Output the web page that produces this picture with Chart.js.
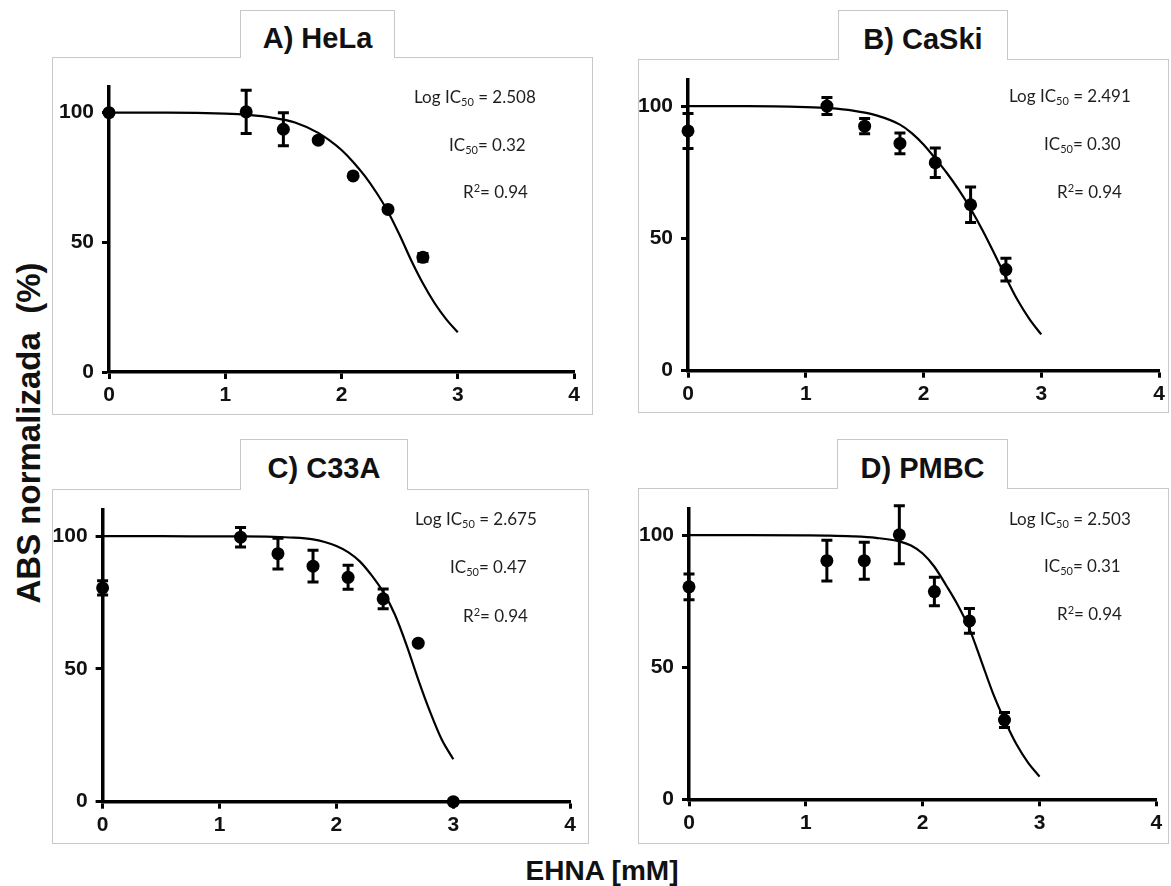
<!DOCTYPE html>
<html>
<head>
<meta charset="utf-8">
<script src="https://cdn.jsdelivr.net/npm/chart.js@4.4.0/dist/chart.umd.min.js"></script>
<style>
    body { margin: 0; width: 1171px; height: 886px; background: #fff; position: relative; overflow: hidden;
           font-family: 'Liberation Sans', Arial, sans-serif; }
    .box { position: absolute; border: 1px solid #c8c8c8; box-sizing: border-box; }
    .tab { position: absolute; border: 1px solid #c8c8c8; border-bottom: none; background: #fff; box-sizing: border-box;
           font-weight: bold; font-size: 29px; color: #111; text-align: center; z-index: 2; }
    .tab span { position: absolute; left: 0; right: 0; }
    canvas { position: absolute; z-index: 1; }
    .note { position: absolute; font-family: Lato, 'Open Sans', sans-serif; font-size: 17px; line-height: 20px;
            color: #1e1e1e; white-space: nowrap; z-index: 3; }
    .note sub { font-size: 11px; vertical-align: -3px; line-height: 0; }
    .note sup { font-size: 11px; vertical-align: 6px; line-height: 0; }
    .axis-title { position: absolute; font-weight: bold; color: #111; white-space: nowrap; z-index: 3;
                  transform: translate(-50%, -50%); }
</style>
</head>
<body>
<script>
// doses (log scale, mM) shared by all four cell lines
const dose = [0, 1.18, 1.5, 1.8, 2.1, 2.4, 2.7];
const doseC33A = [0, 1.18, 1.5, 1.8, 2.1, 2.4, 2.7, 3.0];

// normalized absorbance (%) and error bars
const hela = [100, 100.3, 93.6, 89.4, 75.6, 62.7, 44.2];
const helaErr = [0, 8.3, 6.4, 0, 0, 0, 1.5];
const caski = [90.6, 100, 92.4, 85.9, 78.6, 62.7, 38.2];
const caskiErr = [6.6, 3.2, 2.9, 3.9, 5.6, 6.7, 4.3];
const c33a = [80.5, 99.6, 93.4, 88.7, 84.5, 76.4, 59.7, 0];
const c33aErr = [2.7, 3.7, 5.8, 6.0, 4.5, 3.7, 0, 0];
const pmbc = [80.4, 90.3, 90.3, 100.1, 78.6, 67.5, 30];
const pmbcErr = [4.9, 7.7, 7.0, 11, 5.4, 4.7, 2.8];

// fitted dose-response curves
const curveX = [0, 0.5, 1.0, 1.2, 1.4, 1.6, 1.8, 1.9, 2.0, 2.1, 2.2, 2.3, 2.4, 2.5, 2.6, 2.7, 2.8, 2.9, 3.0];
const helaFit = [100, 100, 99.6, 99.1, 98.1, 96.2, 92.2, 89.2, 85.6, 81.0, 75.6, 69.2, 61.8, 52.8, 43.0, 34.2, 26.6, 20.4, 15.3];
const caskiFit = [100, 100, 99.6, 99.2, 98.3, 96.5, 93.0, 89.8, 85.5, 80.2, 74.6, 68.3, 61.2, 53.2, 44.4, 35.2, 26.6, 19.5, 13.7];
const c33aFit = [100, 100, 99.9, 99.9, 99.8, 99.5, 98.8, 97.8, 96.3, 94.0, 90.5, 85.3, 79.0, 70.5, 59.0, 46.0, 34.0, 23.5, 16.0];
const pmbcFit = [100, 100, 99.9, 99.8, 99.5, 98.9, 97.6, 96.0, 93.0, 88.0, 81.0, 73.5, 64.5, 52.5, 40.3, 30.0, 21.0, 14.0, 8.6];

const titles = ['A) HeLa', 'B) CaSki', 'C) C33A', 'D) PMBC'];
const logIC50 = ['2.508', '2.491', '2.675', '2.503'];
const ic50 = ['0.32', '0.30', '0.47', '0.31'];
const r2 = ['0.94', '0.94', '0.94', '0.94'];
const xTicks = [0, 1, 2, 3, 4];
const yTicks = [0, 50, 100];

// page geometry of each panel: frame, title tab, plot area, note lines (left, centre y)
const panels = [
    { box: [52, 57, 541, 358], tab: [240, 10, 155], plot: [109, 574, 86.7, 372],
      notes: [[414, 98], [449, 146], [463, 193]] },
    { box: [638, 59, 531, 354], tab: [838, 10, 170], plot: [688, 1159, 71, 370.7],
      notes: [[1009, 97], [1044, 145], [1057, 193]] },
    { box: [52, 489, 537, 355], tab: [240, 439, 168], plot: [102.6, 570.2, 495, 801.7],
      notes: [[415, 520], [450, 568], [463, 617]] },
    { box: [638, 488, 531, 356], tab: [837, 439, 171], plot: [689, 1156.4, 500, 799.3],
      notes: [[1009, 520], [1044, 567], [1057, 615]] }
];

const series = [
    { x: dose, y: hela, err: helaErr, fit: helaFit },
    { x: dose, y: caski, err: caskiErr, fit: caskiFit },
    { x: doseC33A, y: c33a, err: c33aErr, fit: c33aFit },
    { x: dose, y: pmbc, err: pmbcErr, fit: pmbcFit }
];

// draws vertical error bars with caps for datasets that carry an `errors` array
const errorBars = {
    id: 'errorBars',
    beforeDatasetsDraw(chart) {
        const ctx = chart.ctx;
        const xs = chart.scales.x, ys = chart.scales.y;
        chart.data.datasets.forEach(ds => {
            if (!ds.errors) return;
            ctx.save();
            ctx.strokeStyle = '#000';
            ctx.lineWidth = 3;
            ds.data.forEach((p, i) => {
                const e = ds.errors[i];
                if (!e) return;
                const px = xs.getPixelForValue(p.x);
                const top = ys.getPixelForValue(p.y + e);
                const bot = ys.getPixelForValue(p.y - e);
                ctx.beginPath();
                ctx.moveTo(px, top); ctx.lineTo(px, bot);
                ctx.moveTo(px - 5.5, top); ctx.lineTo(px + 5.5, top);
                ctx.moveTo(px - 5.5, bot); ctx.lineTo(px + 5.5, bot);
                ctx.stroke();
            });
            ctx.restore();
        });
    }
};

function addDiv(cls, html, style) {
    const d = document.createElement('div');
    d.className = cls;
    d.innerHTML = html;
    Object.assign(d.style, style);
    document.body.appendChild(d);
    return d;
}

function makePanel(i) {
    const g = panels[i], s = series[i];
    const [bx, by, bw, bh] = g.box;
    const [pl, pr, pt, pb] = g.plot;

    addDiv('box', '', { left: bx + 'px', top: by + 'px', width: bw + 'px', height: bh + 'px' });
    const tab = addDiv('tab', '<span>' + titles[i] + '</span>', {
        left: g.tab[0] + 'px', top: g.tab[1] + 'px', width: g.tab[2] + 'px', height: (by - g.tab[1] + 1) + 'px'
    });
    tab.firstChild.style.top = ((by - g.tab[1]) / 2 - 13) + 'px';

    const lines = [
        'Log IC<sub>50</sub> = ' + logIC50[i],
        'IC<sub>50</sub>= ' + ic50[i],
        'R<sup>2</sup>= ' + r2[i]
    ];
    lines.forEach((txt, k) => {
        addDiv('note', txt, { left: g.notes[k][0] + 'px', top: (g.notes[k][1] - 11) + 'px' });
    });

    const canvas = document.createElement('canvas');
    canvas.width = bw;
    canvas.height = bh;
    canvas.style.left = bx + 'px';
    canvas.style.top = by + 'px';
    document.body.appendChild(canvas);

    const yWidth = pl - bx;
    const xHeight = by + bh - pb;
    const tickFont = { family: "'Liberation Sans', Arial, sans-serif", size: 21, weight: 'bold' };
    const axisGrid = { display: true, drawOnChartArea: false, drawTicks: true, tickLength: 7, tickWidth: 3, tickColor: '#000' };

    new Chart(canvas, {
        type: 'scatter',
        data: {
            datasets: [
                {
                    data: s.x.map((x, k) => ({ x: x, y: s.y[k] })),
                    errors: s.err,
                    pointRadius: 6.5,
                    pointBackgroundColor: '#000',
                    pointBorderColor: '#000',
                    pointBorderWidth: 0,
                    showLine: false,
                    clip: false
                },
                {
                    data: curveX.map((x, k) => ({ x: x, y: s.fit[k] })),
                    showLine: true,
                    pointRadius: 0,
                    borderColor: '#000',
                    borderWidth: 2.2,
                    cubicInterpolationMode: 'monotone',
                    clip: false
                }
            ]
        },
        options: {
            responsive: false,
            animation: false,
            devicePixelRatio: 1,
            layout: { padding: { left: 0, right: bx + bw - pr, top: pt - by, bottom: 0 } },
            plugins: { legend: { display: false }, tooltip: { enabled: false } },
            scales: {
                x: {
                    type: 'linear', min: 0, max: 4,
                    ticks: { stepSize: 1, font: tickFont, color: '#111', padding: 4 },
                    afterBuildTicks: sc => { sc.ticks = xTicks.map(v => ({ value: v })); },
                    grid: axisGrid,
                    border: { display: true, width: 3.5, color: '#000' },
                    afterFit: sc => { sc.height = xHeight; }
                },
                y: {
                    type: 'linear', min: 0, max: 110,
                    ticks: { stepSize: 50, font: tickFont, color: '#111', padding: 8 },
                    afterBuildTicks: sc => { sc.ticks = yTicks.map(v => ({ value: v })); },
                    grid: axisGrid,
                    border: { display: true, width: 3.5, color: '#000' },
                    afterFit: sc => { sc.width = yWidth; }
                }
            }
        },
        plugins: [errorBars]
    });
}

document.addEventListener('DOMContentLoaded', function() {
    for (let i = 0; i < panels.length; i++) makePanel(i);

    addDiv('axis-title', 'ABS normalizada&nbsp; (%)', { left: '29px', top: '433px', fontSize: '33px',
        transform: 'translate(-50%, -50%) rotate(-90deg)' });
    addDiv('axis-title', 'EHNA [mM]', { left: '602px', top: '871px', fontSize: '28px' });
});
</script>
</body>
</html>
